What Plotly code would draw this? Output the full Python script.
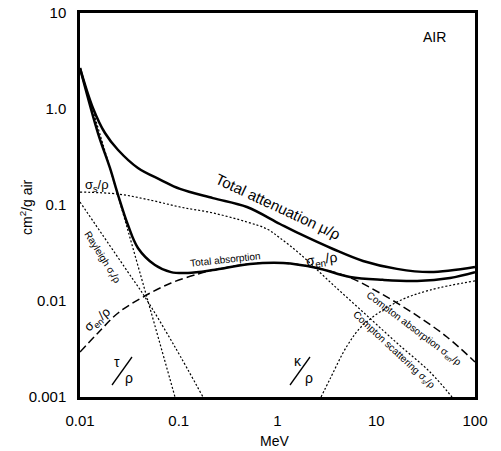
import plotly.graph_objects as go

# ---------------- data ----------------
E_att = [0.01, 0.01355, 0.0179, 0.0243, 0.0386, 0.0661, 0.103, 0.222, 0.491, 1.06, 1.69, 3.65, 7.35, 16.2, 35.0, 100]
mu_att = [2.67, 1.02, 0.562, 0.374, 0.243, 0.182, 0.147, 0.118, 0.0953, 0.0634, 0.0499, 0.0348, 0.0261, 0.0216, 0.020, 0.0226]

E_abs = [0.01, 0.0152, 0.0201, 0.0243, 0.0306, 0.0386, 0.0574, 0.0836, 0.124, 0.222, 0.527, 1.14, 2.51, 5.42, 11.7, 25.9, 55.8, 100]
mu_abs = [2.67, 0.562, 0.243, 0.127, 0.0619, 0.0357, 0.0237, 0.020, 0.0196, 0.021, 0.0243, 0.0249, 0.0221, 0.0178, 0.0166, 0.0162, 0.0174, 0.020]

E_tau = [0.01, 0.0201, 0.0405, 0.0916]
tau = [2.67, 0.243, 0.0196, 0.001]

E_ray = [0.01, 0.0306, 0.0455, 0.0916, 0.176]
ray = [0.1074, 0.020, 0.0110, 0.00332, 0.001]

E_sig_s = [0.01, 0.0243, 0.0512, 0.103, 0.222, 0.491, 0.783, 1.06, 1.69, 3.40, 7.35, 16.2, 35.0, 58.5]
sig_s = [0.1365, 0.130, 0.1127, 0.0953, 0.0826, 0.0665, 0.0562, 0.0453, 0.0309, 0.0158, 0.00767, 0.00365, 0.00182, 0.001]

E_sig_en = [0.01, 0.0152, 0.0243, 0.0435, 0.0836, 0.157, 0.222, 0.527, 1.14, 2.51, 5.42, 10.9, 23.5, 52.0, 100]
sig_en = [0.00294, 0.00464, 0.0075, 0.0110, 0.0154, 0.0191, 0.021, 0.0243, 0.0249, 0.0221, 0.0175, 0.0121, 0.0075, 0.00422, 0.00232]

E_kap = [2.76, 3.40, 5.06, 7.35, 16.2, 35.0, 100]
kap = [0.001, 0.00154, 0.0034, 0.00562, 0.00977, 0.0130, 0.0162]

x_ticks = [0.01, 0.1, 1, 10, 100]
x_tick_text = ["0.01", "0.1", "1", "10", "100"]
y_ticks = [0.001, 0.01, 0.1, 1, 10]
y_tick_text = ["0.001", "0.01", "0.1", "1.0", "10"]

# ---------------- figure ----------------
W, H = 501, 451
L, R, T, B = 80, 26, 13, 54
FONT = "Liberation Sans, Arial, Helvetica, sans-serif"


def P(px, py):
    """pixel position -> paper coords"""
    return (px - L) / (W - L - R), (H - B - py) / (H - T - B)


fig = go.Figure()

dotted = dict(color="black", width=1.2, dash="2px,2px", shape="spline")
fig.add_trace(go.Scatter(x=E_tau, y=tau, mode="lines", line=dotted))
fig.add_trace(go.Scatter(x=E_ray, y=ray, mode="lines", line=dotted))
fig.add_trace(go.Scatter(x=E_sig_s, y=sig_s, mode="lines", line=dotted))
fig.add_trace(go.Scatter(x=E_kap, y=kap, mode="lines", line=dotted))
fig.add_trace(go.Scatter(x=E_sig_en, y=sig_en, mode="lines",
                         line=dict(color="black", width=1.5, dash="8px,4px", shape="spline")))
solid = dict(color="black", width=2.5, shape="spline")
fig.add_trace(go.Scatter(x=E_abs, y=mu_abs, mode="lines", line=solid))
fig.add_trace(go.Scatter(x=E_att, y=mu_att, mode="lines", line=solid))

annos = []


def add(text, px, py, size, angle=0):
    x, y = P(px, py)
    annos.append(dict(text=text, x=x, y=y, xref="paper", yref="paper", showarrow=False,
                      textangle=angle, font=dict(family=FONT, size=size, color="black"),
                      xanchor="center", yanchor="middle"))


add("AIR", 434, 37, 14)
add("Total attenuation μ/ρ", 278, 207, 15, 25)
add("Total absorption", 225, 259, 10, -6)
add("σ<sub>s</sub>/ρ", 97, 185, 13)
add("Rayleigh σ<sub>r</sub>/ρ", 102, 257, 10, 58)
add("σ<sub>en</sub>/ρ", 97, 320, 13, -40)
add("σ<sub>en</sub>/ρ", 321, 260, 14, -8)
add("Compton absorption σ<sub>en</sub>/ρ", 414, 329, 10, 37)
add("Compton scattering σ<sub>s</sub>/ρ", 394, 350, 10, 43)
add("τ", 117, 362, 14)
add("ρ", 129, 378, 14)
add("κ", 298, 361, 14)
add("ρ", 309, 378, 14)
add("MeV", 274, 441, 14)
add("cm<sup>2</sup>/g air", 26, 207, 14, -90)

# fraction slashes of the τ/ρ and κ/ρ labels
shapes = []
for (x0, y0, x1, y1) in [(112, 385, 132, 357), (290, 385, 310, 357)]:
    a0, b0 = P(x0, y0)
    a1, b1 = P(x1, y1)
    shapes.append(dict(type="line", xref="paper", yref="paper", x0=a0, y0=b0, x1=a1, y1=b1,
                       line=dict(color="black", width=1.3)))

fig.update_layout(
    width=W, height=H,
    margin=dict(l=L, r=R, t=T, b=B, pad=0, autoexpand=False),
    paper_bgcolor="white", plot_bgcolor="white",
    showlegend=False,
    font=dict(family=FONT, size=15, color="black"),
    annotations=annos,
    shapes=shapes,
)
fig.update_xaxes(type="log", range=[-2, 2], tickvals=x_ticks, ticktext=x_tick_text, automargin=False,
                 showgrid=False, zeroline=False, showline=True, linecolor="black", linewidth=2.5,
                 mirror=True, ticks="", ticklabelstandoff=8, tickfont=dict(size=15))
fig.update_yaxes(type="log", range=[-3, 1], tickvals=y_ticks, ticktext=y_tick_text, automargin=False,
                 showgrid=False, zeroline=False, showline=True, linecolor="black", linewidth=2.5,
                 mirror=True, ticks="", ticklabelstandoff=8, tickfont=dict(size=15))

fig.write_html("out.html", config={"displayModeBar": False},
               post_script="document.body.style.margin='0px';document.body.style.overflow='hidden';")
